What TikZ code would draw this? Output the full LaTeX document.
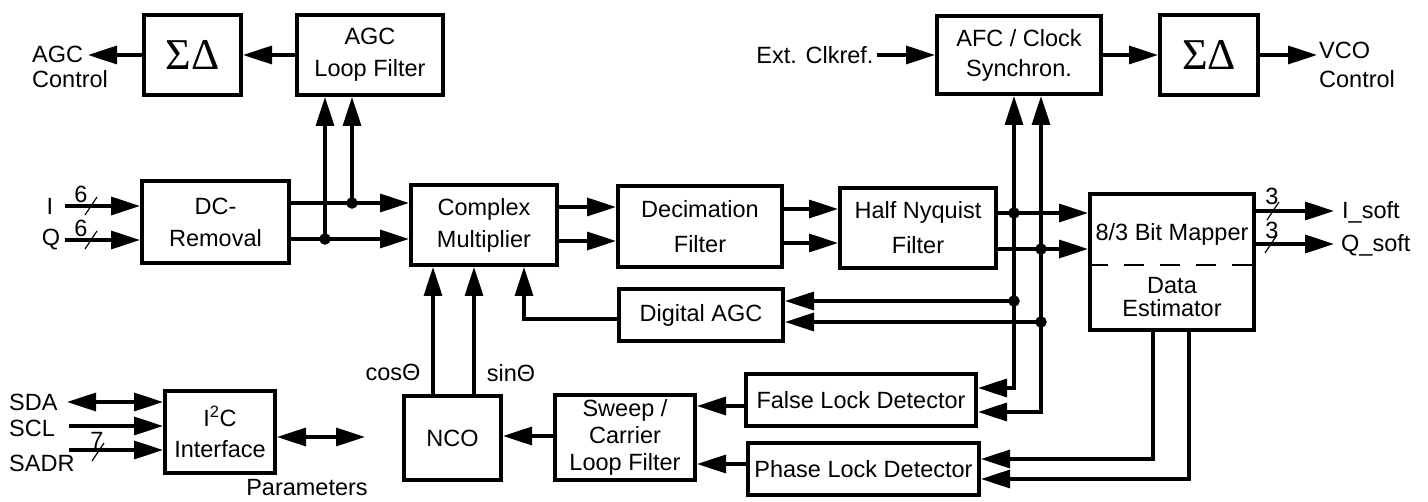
\documentclass[tikz,border=0pt]{standalone}
\usepackage{fontspec}
\setmainfont{Liberation Sans}
\newfontfamily\sigfont{Liberation Serif}
\usetikzlibrary{arrows.meta}

\begin{document}
\begin{tikzpicture}[x=1pt,y=-1pt,
    font=\fontsize{23.5}{32}\selectfont,
    >={Triangle[length=29pt,width=18pt]},
    blk/.style={draw,line width=4pt,inner sep=0pt,align=center},
    sig/.style={blk,font=\sigfont\fontsize{44}{44}\selectfont},
    con/.style={line width=3.3pt},
    busmark/.style={line width=1.2pt},
    lbl/.style={inner sep=0pt,align=left}]
  \useasboundingbox (0,0) rectangle (1428,502);

  % blocks
  \node[sig,minimum width=97,minimum height=80] (sdL) at (192.5,55) {ΣΔ};
  \node[blk,minimum width=146,minimum height=80] (agcf) at (370,55) {AGC\\Loop Filter};
  \node[blk,minimum width=164,minimum height=78,font=\fontsize{23.5}{30}\selectfont] (afc) at (1019,55) {AFC / Clock\\Synchron.};
  \node[sig,minimum width=98,minimum height=80] (sdR) at (1209,55) {ΣΔ};
  \node[blk,minimum width=147,minimum height=82] (dc) at (215.5,222) {DC-\\Removal};
  \node[blk,minimum width=146,minimum height=80] (cm) at (484,225) {Complex\\Multiplier};
  \node[blk,minimum width=164,minimum height=81,font=\fontsize{23.5}{35}\selectfont] (dec) at (700,226.5) {Decimation\\Filter};
  \node[blk,minimum width=156,minimum height=80,font=\fontsize{23.5}{35}\selectfont] (hnf) at (918,228) {Half Nyquist\\Filter};
  \node[blk,minimum width=164,minimum height=136] (bm) at (1172,262.5) {};
  \node[blk,minimum width=164,minimum height=52] (dagc) at (701,315) {Digital AGC};
  \node[blk,minimum width=97,minimum height=84] (nco) at (452.5,438) {NCO};
  \node[blk,minimum width=140,minimum height=85,font=\fontsize{23.5}{27}\selectfont] (sweep) at (625,437.5) {Sweep /\\Carrier\\Loop Filter};
  \node[blk,minimum width=230,minimum height=52] (fld) at (861,400) {False Lock Detector};
  \node[blk,minimum width=231,minimum height=52] (pld) at (863.5,469) {Phase Lock Detector};
  \node[blk,minimum width=110,minimum height=82,font=\fontsize{23.5}{31}\selectfont] (i2c) at (220,432) {I\textsuperscript{2}C\\Interface};

  % text in the mapper block
  \node (bmtop) at (1172,234) {8/3 Bit Mapper};
  \node[align=center,font=\fontsize{23.5}{23}\selectfont] (bmbot) at (1172,297) {Data\\Estimator};
  \coordinate (dsh) at (1172,265);
  \draw[line width=1.5pt,dash pattern=on 20pt off 16pt] (bm.west |- dsh) -- (bm.east |- dsh);

  % outside labels
  \node[lbl,anchor=west,font=\fontsize{23.5}{25}\selectfont] (agcctl) at (32,67) {AGC\\Control};
  \node[lbl,anchor=west,font=\fontsize{23.5}{29}\selectfont] (vcoctl) at (1319,65) {VCO\\Control};
  \node[anchor=east] (ext) at (877,55) {Ext. Clkref.};
  \node (ilbl) at (50,206) {I};
  \node (qlbl) at (51,240) {Q};
  \node (w6a) at (81,194) {6};
  \node (w6b) at (81,228) {6};
  \node[lbl,anchor=west] (sdalbl) at (9,402) {SDA};
  \node[lbl,anchor=west] (scllbl) at (9,428) {SCL};
  \node[lbl,anchor=west] (sadrlbl) at (9,463) {SADR};
  \node (w7) at (97,440) {7};
  \node (parlbl) at (307,488) {Parameters};
  \node (coslbl) at (393,372) {cosΘ};
  \node (sinlbl) at (511,373) {sinΘ};
  \node[lbl,anchor=west] (isoft) at (1342,212) {I\_soft};
  \node[lbl,anchor=west] (qsoft) at (1341,245) {Q\_soft};
  \node (w3a) at (1272,196) {3};
  \node (w3b) at (1272,230) {3};

  % rails and free ends
  \coordinate (agcout) at (88,55);
  \coordinate (vcoout) at (1317,55);
  \coordinate (iin) at (65,206);
  \coordinate (qin) at (65,240);
  \coordinate (jI) at (352,203);
  \coordinate (jQ) at (325,239);
  \coordinate (m1) at (588,207);
  \coordinate (m2) at (588,241);
  \coordinate (d1) at (811,209);
  \coordinate (d2) at (811,243);
  \coordinate (j1) at (1014,213);
  \coordinate (j2) at (1041,249);
  \coordinate (j3) at (1014,301);
  \coordinate (j4) at (1041,322);
  \coordinate (o1) at (1334,211);
  \coordinate (o2) at (1334,244);
  \coordinate (g1) at (524,319);
  \coordinate (c1) at (433,330);
  \coordinate (c2) at (474,330);
  \coordinate (s1) at (720,406);
  \coordinate (s2) at (720,464);
  \coordinate (s3) at (528,436);
  \coordinate (sda) at (67,402);
  \coordinate (scl) at (69,426);
  \coordinate (sadr) at (69,450);
  \coordinate (par) at (365,437);

  % top row
  \draw[con,->] (agcf.west) -- (sdL.east);
  \draw[con,->] (sdL.west) -- (agcout);
  \draw[con,->] (ext.east) -- (afc.west);
  \draw[con,->] (afc.east) -- (sdR.west);
  \draw[con,->] (sdR.east) -- (vcoout);

  % signal path
  \draw[con,->] (iin) -- (dc.west |- iin);
  \draw[con,->] (qin) -- (dc.west |- qin);
  \draw[con,->] (dc.east |- jI) -- (cm.west |- jI);
  \draw[con,->] (dc.east |- jQ) -- (cm.west |- jQ);
  \draw[con,->] (jI) -- (jI |- agcf.south);
  \draw[con,->] (jQ) -- (jQ |- agcf.south);
  \draw[con,->] (cm.east |- m1) -- (dec.west |- m1);
  \draw[con,->] (cm.east |- m2) -- (dec.west |- m2);
  \draw[con,->] (dec.east |- d1) -- (hnf.west |- d1);
  \draw[con,->] (dec.east |- d2) -- (hnf.west |- d2);
  \draw[con,->] (hnf.east |- j1) -- (bm.west |- j1);
  \draw[con,->] (hnf.east |- j2) -- (bm.west |- j2);
  \draw[con,->] (bm.east |- o1) -- (o1);
  \draw[con,->] (bm.east |- o2) -- (o2);

  % loops
  \draw[con,->] (j1) -- (j1 |- afc.south);
  \draw[con,->] (j2) -- (j2 |- afc.south);
  \draw[con,->] (j1) |- ([yshift=12pt]fld.east);
  \draw[con,->] (j2) |- ([yshift=-12pt]fld.east);
  \draw[con,->] (j3) -- (dagc.east |- j3);
  \draw[con,->] (j4) -- (dagc.east |- j4);
  \draw[con,->] ([xshift=-19pt]bm.south) |- ([yshift=10pt]pld.east);
  \draw[con,->] ([xshift=17pt]bm.south) |- ([yshift=-10pt]pld.east);
  \draw[con,->] (fld.west |- s1) -- (sweep.east |- s1);
  \draw[con,->] (pld.west |- s2) -- (sweep.east |- s2);
  \draw[con,->] (sweep.west |- s3) -- (nco.east |- s3);
  \draw[con,->] (c1 |- nco.north) -- (c1 |- cm.south);
  \draw[con,->] (c2 |- nco.north) -- (c2 |- cm.south);
  \draw[con,->] (dagc.west |- g1) -- (g1) -- (g1 |- cm.south);

  % control port
  \draw[con,<->] (sda) -- (i2c.west |- sda);
  \draw[con,->] (scl) -- (i2c.west |- scl);
  \draw[con,->] (sadr) -- (i2c.west |- sadr);
  \draw[con,<->] (i2c.east |- par) -- (par);

  % junctions
  \foreach \p in {jI,jQ,j1,j2,j3,j4}
    \draw[fill=black] (\p) circle (5.5pt);

  % bus width marks
  \coordinate (sI) at (91,206);
  \coordinate (sQ) at (91,240);
  \coordinate (sA) at (98,452);
  \coordinate (sO1) at (1273,211);
  \coordinate (sO2) at (1271,244);
  \foreach \p in {sI,sQ,sA,sO1,sO2}
    \draw[busmark] ([shift={(-6,9)}]\p) -- ([shift={(6,-9)}]\p);
\end{tikzpicture}
\end{document}
